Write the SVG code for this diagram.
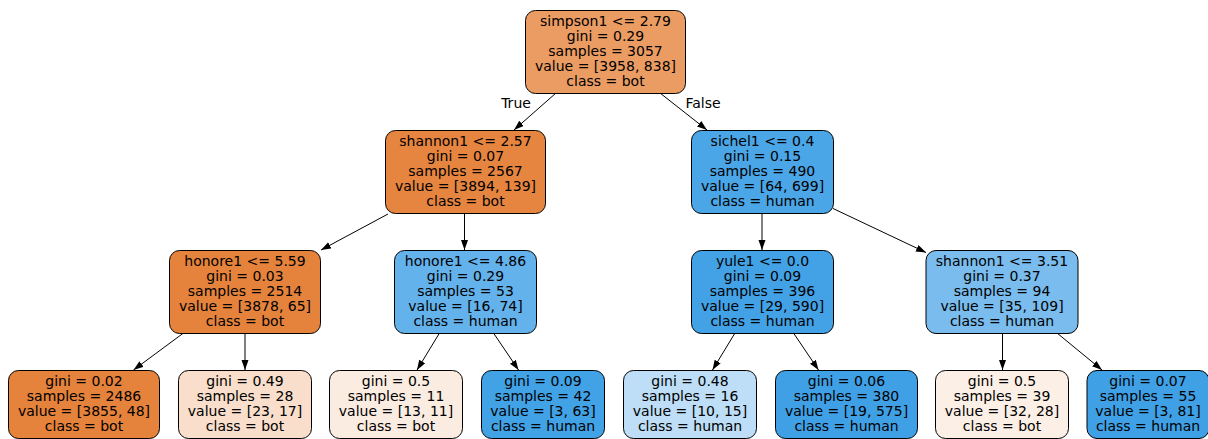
<svg xmlns="http://www.w3.org/2000/svg" width="1208" height="439" viewBox="0 0 1208 439">
<style>
.n rect{stroke:#000;stroke-width:1}
text{font-family:"DejaVu Sans",sans-serif;font-size:14px;fill:#000;text-anchor:middle}
.e line{stroke:#000;stroke-width:1}
</style>
<defs>
<marker id="ah" markerUnits="userSpaceOnUse" markerWidth="10" markerHeight="8" refX="10" refY="3.5" orient="auto">
<path d="M0,0 L10,3.5 L0,7 z" fill="#000"/>
</marker>
</defs>
<rect width="1208" height="439" fill="#fff"/>
<g id="edges" class="e">
<line x1="556" y1="93" x2="514" y2="130" marker-end="url(#ah)"/>
<line x1="660" y1="93" x2="707" y2="130" marker-end="url(#ah)"/>
<line x1="388" y1="214" x2="321" y2="250" marker-end="url(#ah)"/>
<line x1="464.5" y1="213" x2="464.5" y2="250" marker-end="url(#ah)"/>
<line x1="762" y1="213" x2="762" y2="250" marker-end="url(#ah)"/>
<line x1="833" y1="208.5" x2="926" y2="252.5" marker-end="url(#ah)"/>
<line x1="183.5" y1="333" x2="133.5" y2="370" marker-end="url(#ah)"/>
<line x1="245" y1="333" x2="245" y2="370" marker-end="url(#ah)"/>
<line x1="439.5" y1="333" x2="417" y2="370" marker-end="url(#ah)"/>
<line x1="493.5" y1="333" x2="518.5" y2="370" marker-end="url(#ah)"/>
<line x1="735" y1="333" x2="712.5" y2="370" marker-end="url(#ah)"/>
<line x1="793.5" y1="333" x2="818.5" y2="370" marker-end="url(#ah)"/>
<line x1="1002.5" y1="333" x2="1002.5" y2="370" marker-end="url(#ah)"/>
<line x1="1057" y1="333" x2="1102" y2="370" marker-end="url(#ah)"/>
<text x="516" y="108">True</text>
<text x="703" y="108">False</text>
</g>
<g id="n0" class="n"><rect x="525.5" y="10.5" width="160" height="83" rx="10" fill="#eb9c63"/>
<text x="605.5" y="25.5">simpson1 &lt;= 2.79</text><text x="605.5" y="40.5">gini = 0.29</text><text x="605.5" y="55.5">samples = 3057</text><text x="605.5" y="70.5">value = [3958, 838]</text><text x="605.5" y="85.5">class = bot</text></g>
<g id="n1" class="n"><rect x="385.5" y="130.5" width="160" height="83" rx="10" fill="#e68540"/>
<text x="465.5" y="145.5">shannon1 &lt;= 2.57</text><text x="465.5" y="160.5">gini = 0.07</text><text x="465.5" y="175.5">samples = 2567</text><text x="465.5" y="190.5">value = [3894, 139]</text><text x="465.5" y="205.5">class = bot</text></g>
<g id="n2" class="n"><rect x="691.5" y="130.5" width="142" height="83" rx="10" fill="#4ba6e7"/>
<text x="762.5" y="145.5">sichel1 &lt;= 0.4</text><text x="762.5" y="160.5">gini = 0.15</text><text x="762.5" y="175.5">samples = 490</text><text x="762.5" y="190.5">value = [64, 699]</text><text x="762.5" y="205.5">class = human</text></g>
<g id="n3" class="n"><rect x="169.5" y="250.5" width="151" height="83" rx="10" fill="#e5833c"/>
<text x="245" y="265.5">honore1 &lt;= 5.59</text><text x="245" y="280.5">gini = 0.03</text><text x="245" y="295.5">samples = 2514</text><text x="245" y="310.5">value = [3878, 65]</text><text x="245" y="325.5">class = bot</text></g>
<g id="n4" class="n"><rect x="394.5" y="250.5" width="142" height="83" rx="10" fill="#64b2eb"/>
<text x="465.5" y="265.5">honore1 &lt;= 4.86</text><text x="465.5" y="280.5">gini = 0.29</text><text x="465.5" y="295.5">samples = 53</text><text x="465.5" y="310.5">value = [16, 74]</text><text x="465.5" y="325.5">class = human</text></g>
<g id="n5" class="n"><rect x="691.5" y="250.5" width="142" height="83" rx="10" fill="#43a2e6"/>
<text x="762.5" y="265.5">yule1 &lt;= 0.0</text><text x="762.5" y="280.5">gini = 0.09</text><text x="762.5" y="295.5">samples = 396</text><text x="762.5" y="310.5">value = [29, 590]</text><text x="762.5" y="325.5">class = human</text></g>
<g id="n6" class="n"><rect x="926" y="250.5" width="152" height="83" rx="10" fill="#79bced"/>
<text x="1002" y="265.5">shannon1 &lt;= 3.51</text><text x="1002" y="280.5">gini = 0.37</text><text x="1002" y="295.5">samples = 94</text><text x="1002" y="310.5">value = [35, 109]</text><text x="1002" y="325.5">class = human</text></g>
<g id="n7" class="n"><rect x="8.5" y="370.5" width="151" height="68" rx="10" fill="#e5823b"/>
<text x="84" y="385.5">gini = 0.02</text><text x="84" y="400.5">samples = 2486</text><text x="84" y="415.5">value = [3855, 48]</text><text x="84" y="430.5">class = bot</text></g>
<g id="n8" class="n"><rect x="178.5" y="370.5" width="133" height="68" rx="10" fill="#f8decb"/>
<text x="245" y="385.5">gini = 0.49</text><text x="245" y="400.5">samples = 28</text><text x="245" y="415.5">value = [23, 17]</text><text x="245" y="430.5">class = bot</text></g>
<g id="n9" class="n"><rect x="329.5" y="370.5" width="133" height="68" rx="10" fill="#fbece1"/>
<text x="396" y="385.5">gini = 0.5</text><text x="396" y="400.5">samples = 11</text><text x="396" y="415.5">value = [13, 11]</text><text x="396" y="430.5">class = bot</text></g>
<g id="n10" class="n"><rect x="481.5" y="370.5" width="123" height="68" rx="10" fill="#42a2e6"/>
<text x="543" y="385.5">gini = 0.09</text><text x="543" y="400.5">samples = 42</text><text x="543" y="415.5">value = [3, 63]</text><text x="543" y="430.5">class = human</text></g>
<g id="n11" class="n"><rect x="623.5" y="370.5" width="133" height="68" rx="10" fill="#bddef6"/>
<text x="690" y="385.5">gini = 0.48</text><text x="690" y="400.5">samples = 16</text><text x="690" y="415.5">value = [10, 15]</text><text x="690" y="430.5">class = human</text></g>
<g id="n12" class="n"><rect x="775.5" y="370.5" width="142" height="68" rx="10" fill="#40a0e6"/>
<text x="846.5" y="385.5">gini = 0.06</text><text x="846.5" y="400.5">samples = 380</text><text x="846.5" y="415.5">value = [19, 575]</text><text x="846.5" y="430.5">class = human</text></g>
<g id="n13" class="n"><rect x="935.5" y="370.5" width="133" height="68" rx="10" fill="#fcefe6"/>
<text x="1002" y="385.5">gini = 0.5</text><text x="1002" y="400.5">samples = 39</text><text x="1002" y="415.5">value = [32, 28]</text><text x="1002" y="430.5">class = bot</text></g>
<g id="n14" class="n"><rect x="1087" y="370.5" width="122" height="68" rx="10" fill="#40a0e6"/>
<text x="1148" y="385.5">gini = 0.07</text><text x="1148" y="400.5">samples = 55</text><text x="1148" y="415.5">value = [3, 81]</text><text x="1148" y="430.5">class = human</text></g>
</svg>
